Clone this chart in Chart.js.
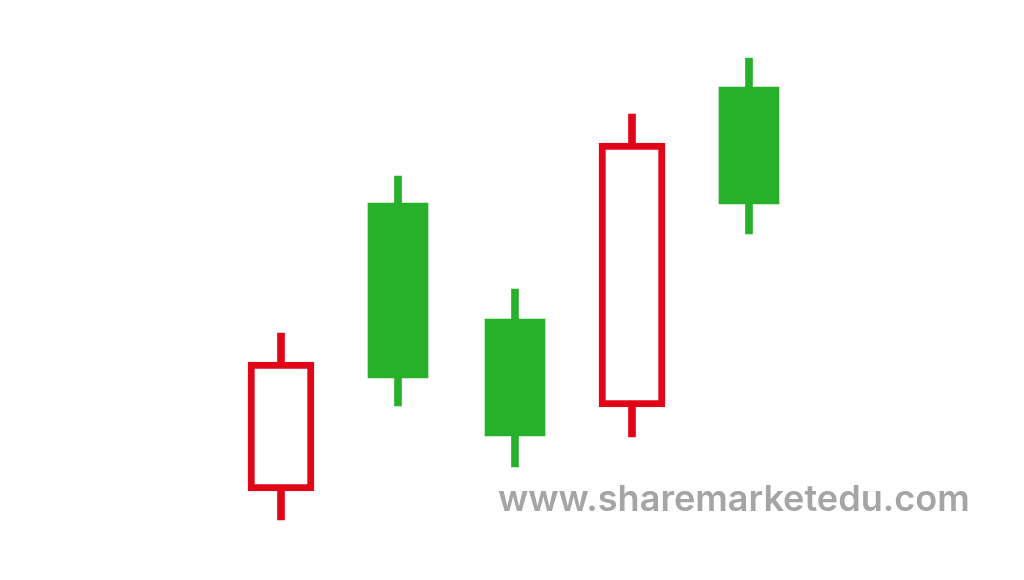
<!DOCTYPE html>
<html>
<head>
<meta charset="utf-8">
<script src="https://cdn.jsdelivr.net/npm/chart.js@4.4.1/dist/chart.umd.min.js"></script>
<style>
  html, body { margin: 0; padding: 0; background: #ffffff; }
  #wrap { position: relative; width: 1024px; height: 580px; }
</style>
</head>
<body>
<div id="wrap">
  <canvas id="candles" width="1024" height="580"></canvas>
</div>
<script>
// candle data (price units)
const labels = ['1', '2', '3', '4', '5'];
const openPrices  = [218, 202, 144, 437, 376];
const highPrices  = [247, 404, 291, 466, 522];
const lowPrices   = [60, 174, 113, 143, 346];
const closePrices = [89, 377, 261, 173, 493];

const watermark = 'www.sharemarketedu.com';

const RED = '#e10518';
const GREEN = '#27b02a';

// wicks span low..high, bodies span open..close
const wicks = labels.map((_, i) => [lowPrices[i], highPrices[i]]);
const redBodies = labels.map((_, i) =>
    closePrices[i] < openPrices[i] ? [closePrices[i], openPrices[i]] : null);
const greenBodies = labels.map((_, i) =>
    closePrices[i] >= openPrices[i] ? [openPrices[i], closePrices[i]] : null);
const wickColors = labels.map((_, i) => closePrices[i] < openPrices[i] ? RED : GREEN);

// draws the site name in the lower right corner
const watermarkPlugin = {
    id: 'watermark',
    afterDraw(chart) {
        const ctx = chart.ctx;
        ctx.save();
        let size = 34;
        ctx.font = `600 ${size}px Inter, "DejaVu Sans", sans-serif`;
        const w = ctx.measureText(watermark).width;
        size = size * 472 / w;
        ctx.font = `600 ${size}px Inter, "DejaVu Sans", sans-serif`;
        ctx.fillStyle = '#a5a5a5';
        ctx.textAlign = 'left';
        ctx.textBaseline = 'alphabetic';
        ctx.fillText(watermark, 498, 511);
        ctx.restore();
    }
};

const ctx = document.getElementById('candles').getContext('2d');
new Chart(ctx, {
    type: 'bar',
    data: {
        labels: labels,
        datasets: [{
            label: 'Red body',
            data: redBodies,
            backgroundColor: '#ffffff',
            borderColor: RED,
            borderWidth: 7,
            borderSkipped: false,
            barThickness: 66,
            grouped: false,
            order: 1
        }, {
            label: 'Green body',
            data: greenBodies,
            backgroundColor: GREEN,
            borderWidth: 0,
            barThickness: 60,
            grouped: false,
            order: 1
        }, {
            label: 'Wick',
            data: wicks,
            backgroundColor: wickColors,
            borderWidth: 0,
            barThickness: 7,
            grouped: false,
            order: 2
        }]
    },
    options: {
        responsive: false,
        animation: false,
        layout: {
            padding: { left: 222.5, right: 216.5, top: 0, bottom: 0 }
        },
        plugins: {
            legend: { display: false },
            tooltip: { enabled: false }
        },
        scales: {
            x: { display: false },
            y: { display: false, min: 0, max: 580 }
        }
    },
    plugins: [watermarkPlugin]
});
</script>
</body>
</html>
